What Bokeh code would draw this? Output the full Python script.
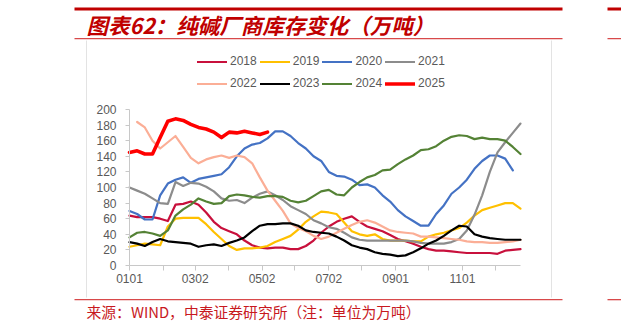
from bokeh.plotting import figure
from bokeh.models import (Range1d, FixedTicker, Legend, LegendItem, Label, BoxAnnotation)
from bokeh.embed import file_html
from bokeh.resources import INLINE

# ---------------- data (weekly inventory, 10k tons) ----------------
years = ["2018", "2019", "2020", "2021", "2022", "2023", "2024", "2025"]

s2018 = [64, 62, 62, 62, 60, 57, 78, 79, 82, 78, 68, 56, 48, 44, 40, 32, 26, 23, 22, 23,
         23, 21, 21, 25, 32, 42, 50, 56, 60, 63, 56, 50, 47, 44, 39, 34, 31, 28, 24, 21,
         19, 19, 18, 17, 16, 16, 16, 16, 15, 19, 20, 21]
s2019 = [24, 26, 28, 27, 26, 50, 60, 61, 61, 61, 53, 43, 34, 25, 20, 22, 22, 23, 25, 30,
         34, 38, 46, 56, 63, 69, 68, 66, 55, 44, 40, 38, 40, 34, 32, 32, 32, 31, 31, 37,
         40, 42, 45, 48, 55, 64, 71, 74, 77, 80, 80, 73]
s2020 = [70, 66, 59, 59, 90, 105, 110, 113, 106, 111, 113, 115, 117, 126, 140, 150, 155, 157, 163, 172,
         172, 166, 157, 150, 140, 134, 120, 115, 114, 110, 103, 104, 100, 90, 82, 71, 63, 57, 51, 51,
         66, 77, 92, 100, 110, 124, 134, 141, 141, 137, 122]
s2021 = [100, 96, 92, 86, 80, 79, 107, 102, 106, 105, 101, 95, 86, 83, 84, 80, 87, 92, 95, 90,
         84, 76, 71, 66, 58, 54, 49, 47, 42, 36, 33, 32, 32, 32, 32, 32, 32, 31, 29, 28,
         28, 28, 30, 34, 45, 65, 90, 120, 145, 158, 170, 182]
s2022 = [None, 184, 177, 160, 150, 158, 166, 152, 138, 131, 136, 139, 141, 138, 141, 139, 131, 113, 96, 83,
         70, 54, 48, 44, 38, 34, 37, 42, 47, 52, 56, 58, 55, 50, 45, 43, 42, 41, 37, 37,
         36, 35, 34, 33, 31, 30, 30, 29, 29, 30, 31, 33]
s2023 = [30, 28, 25, 30, 34, 31, 30, 29, 28, 24, 26, 27, 25, 29, 32, 36, 44, 51, 53, 53,
         54, 54, 51, 45, 43, 42, 41, 37, 32, 26, 23, 21, 17, 15, 14, 12, 13, 17, 22, 28,
         32, 38, 45, 51, 50, 40, 37, 35, 34, 33, 33, 33]
s2024 = [36, 42, 43, 41, 38, 45, 64, 72, 78, 86, 82, 79, 80, 89, 91, 90, 88, 87, 89, 89,
         88, 83, 81, 83, 89, 95, 97, 91, 90, 100, 107, 113, 116, 122, 123, 130, 136, 141, 148, 149,
         153, 160, 165, 167, 166, 162, 164, 162, 162, 160, 152, 143]
s2025 = [145, 147, 143, 143, 164, 185, 188, 186, 181, 177, 175, 171, 164, 171, 170, 172, 170, 168, 171]

series = [s2018, s2019, s2020, s2021, s2022, s2023, s2024, s2025]
colors = ["#C8103C", "#FFC000", "#4472C4", "#8C8C8C", "#FBAE96", "#000000", "#548235", "#FF0000"]
widths = [2.2, 2.2, 2.2, 2.2, 2.2, 2.2, 2.2, 3.6]

# x axis: month-start day-of-year, labels every other month
tick_days = [0, 31, 60, 90, 121, 151, 182, 212, 243, 273, 304, 334]
tick_labels = ["0101", "", "0302", "", "0502", "", "0702", "", "0901", "", "1101", ""]
y_ticks = [0, 20, 40, 60, 80, 100, 120, 140, 160, 180, 200]

title_text = "图表62：纯碱厂商库存变化（万吨）"
source_text = "来源：WIND，中泰证券研究所（注：单位为万吨）"

# ---------------- geometry: plot area inside the report page ----------------
W, H = 621, 330
PL, PR, PT, PB = 129, 520, 109, 265          # plot-area pixel box
XMAX, YMAX = 51, 200
kx = (PR - PL) / XMAX
ky = (PB - PT) / YMAX
x_start = -PL / kx
y_start = -(H - PB) / ky

def dx(px):
    return x_start + px / kx

def dy(py):
    return y_start + (H - py) / ky

p = figure(width=W, height=H, output_backend="svg", toolbar_location=None,
           x_range=Range1d(x_start, x_start + W / kx),
           y_range=Range1d(y_start, y_start + H / ky),
           min_border=0, min_border_left=0, min_border_right=0,
           min_border_top=0, min_border_bottom=0)
p.outline_line_color = None
p.background_fill_color = "white"
p.border_fill_color = "white"
p.xgrid.grid_line_color = None
p.ygrid.grid_line_color = None

axis_col = "#C8C8C8"
lab_col = "#595959"
tick_pos = [d / 7 for d in tick_days]
p.xaxis.fixed_location = 0
p.xaxis.bounds = (0, XMAX)
p.xaxis.ticker = FixedTicker(ticks=tick_pos)
p.xaxis.major_label_overrides = {t: l for t, l in zip(tick_pos, tick_labels)}
p.xaxis.minor_tick_line_color = None
p.xaxis.major_tick_out = 5
p.xaxis.major_tick_in = 0
p.xaxis.major_label_standoff = 3
p.yaxis.fixed_location = 0
p.yaxis.bounds = (0, YMAX)
p.yaxis.ticker = FixedTicker(ticks=y_ticks)
p.yaxis.minor_tick_line_color = None
p.yaxis.major_tick_out = 4
p.yaxis.major_tick_in = 0
p.yaxis.major_label_standoff = 9
for ax in (p.xaxis, p.yaxis):
    ax.axis_line_color = axis_col
    ax.major_tick_line_color = axis_col
    ax.major_label_text_color = lab_col
    ax.major_label_text_font = "Liberation Sans"
    ax.major_label_text_font_size = "12px"

items = []
for name, vals, c, w in zip(years, series, colors, widths):
    xs = [i for i, v in enumerate(vals) if v is not None]
    ys = [v for v in vals if v is not None]
    r = p.line(xs, ys, line_color=c, line_width=w, line_join="round", line_cap="round")
    items.append(LegendItem(label=name, renderers=[r]))

legend = Legend(items=items, orientation="horizontal", ncols=4,
                location=(197, H - 92.5), padding=0, margin=0, spacing=3,
                glyph_width=30, glyph_height=19, label_height=19, label_standoff=3,
                label_text_font="Liberation Sans", label_text_font_size="12px",
                label_text_color=lab_col, background_fill_alpha=0, border_line_alpha=0)
p.add_layout(legend, "center")

# ---------------- page decorations (report frame) ----------------
def hbar(x0, x1, y0, y1, color):
    p.add_layout(BoxAnnotation(left=dx(x0), right=dx(x1), top=dy(y0), bottom=dy(y1),
                               fill_color=color, fill_alpha=1, line_alpha=0))

red = "#C00000"
hbar(74, 562, 7, 10, red)
hbar(74, 562, 37.5, 38.8, "#D8494A")
hbar(74, 562, 298.5, 299.8, "#D8494A")
hbar(607, 621, 7, 10, red)
hbar(607, 621, 37.5, 38.8, "#D8494A")
hbar(607, 621, 298.5, 299.8, "#D8494A")
hbar(85.5, 86.5, 40, 297, "#E3E3E3")
hbar(550.5, 551.5, 40, 297, "#E3E3E3")

p.add_layout(Label(x=dx(86), y=dy(24), text=title_text,
                   text_font="Noto Sans CJK SC", text_font_style="bold italic",
                   text_font_size="21.5px", text_color=red, text_baseline="middle"))
p.add_layout(Label(x=dx(86), y=dy(311), text=source_text,
                   text_font="Noto Sans CJK SC", text_font_size="14.8px",
                   text_color="#C8191E", text_baseline="middle"))

open("out.html", "w").write(file_html(p, INLINE))
